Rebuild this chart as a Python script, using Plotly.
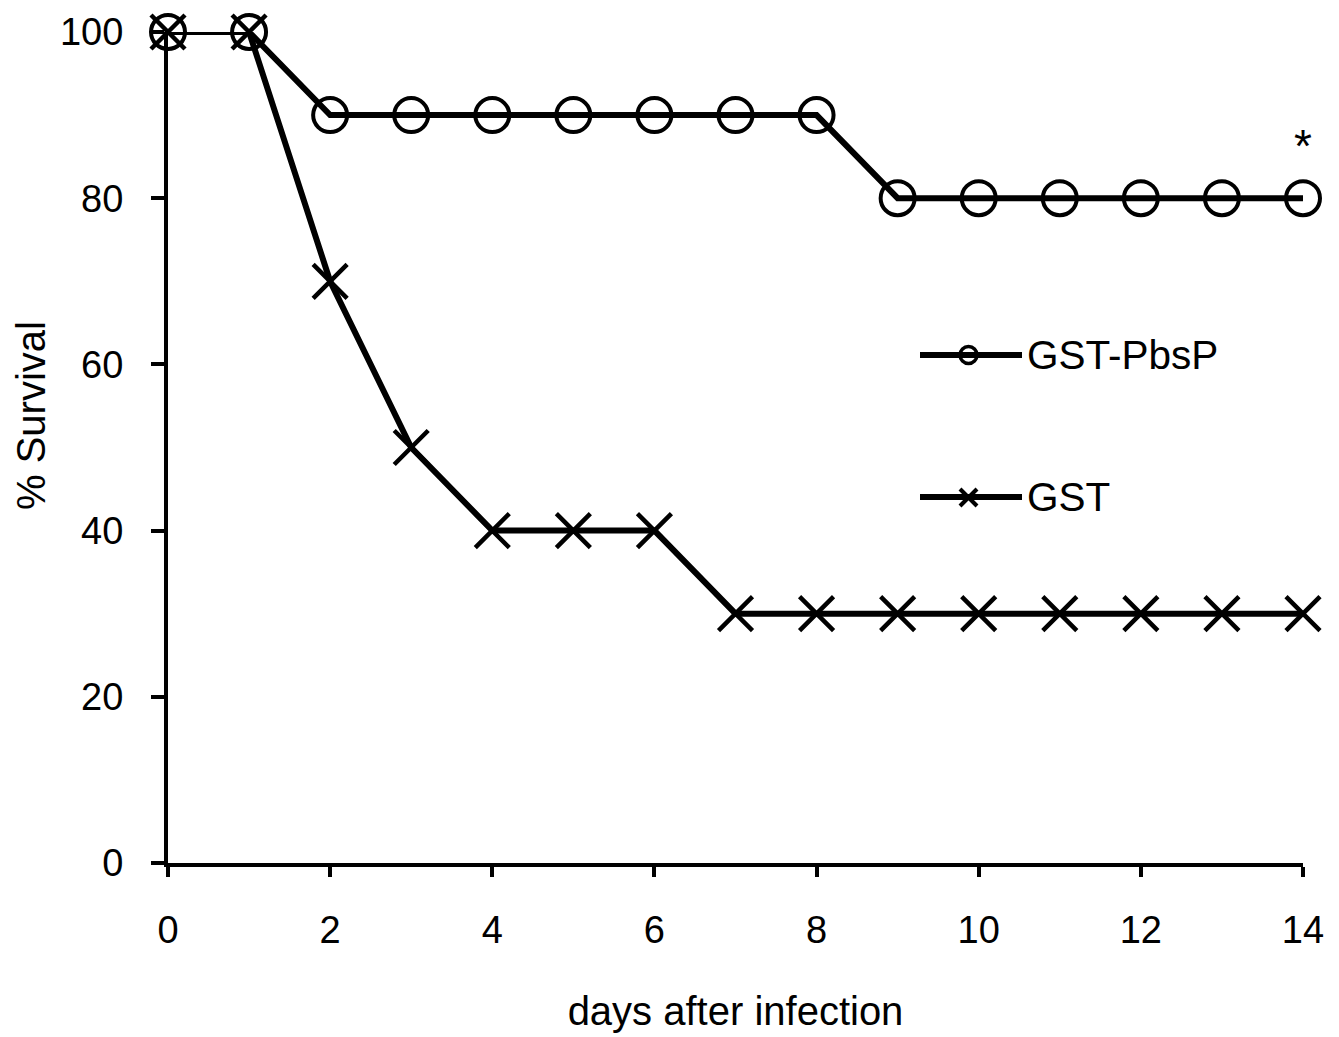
import plotly.graph_objects as go

days = list(range(15))
gst_pbsp = [100, 100, 90, 90, 90, 90, 90, 90, 90, 80, 80, 80, 80, 80, 80]
gst = [100, 100, 70, 50, 40, 40, 40, 30, 30, 30, 30, 30, 30, 30, 30]
x_ticks = [0, 2, 4, 6, 8, 10, 12, 14]
y_ticks = [0, 20, 40, 60, 80, 100]

FONT = "Liberation Sans, Arial, sans-serif"

fig = go.Figure()
fig.add_trace(go.Scatter(
    x=days, y=gst, mode="lines+markers", name="GST",
    line=dict(color="black", width=6),
    marker=dict(symbol="x-thin-open", size=34, line=dict(color="black", width=4.5)),
    cliponaxis=False,
))
fig.add_trace(go.Scatter(
    x=days, y=gst_pbsp, mode="lines+markers", name="GST-PbsP",
    line=dict(color="black", width=6),
    marker=dict(symbol="circle-open", size=34, color="black", line=dict(color="black", width=4)),
    cliponaxis=False,
))

# custom legend (paper coords); page has an 8px body offset
OFF = 8
L, T, Rr, B = 168 - OFF, 32 - OFF, 1303 - OFF, 863 - OFF
W, H = float(Rr - L), float(B - T)
def px(xp):
    return (xp - OFF - L) / W
def py(yp):
    return (B - (yp - OFF)) / H

shapes = []
for yy in (355, 497):
    shapes.append(dict(type="line", xref="paper", yref="paper",
                       x0=px(920), x1=px(1022), y0=py(yy), y1=py(yy),
                       line=dict(color="black", width=6)))
shapes.append(dict(type="circle", xref="paper", yref="paper",
                   x0=px(960), x1=px(977), y0=py(363.5), y1=py(346.5),
                   line=dict(color="black", width=3.5), fillcolor="rgba(0,0,0,0)"))
shapes.append(dict(type="line", xref="paper", yref="paper",
                   x0=px(960), x1=px(977), y0=py(489), y1=py(506),
                   line=dict(color="black", width=4)))
shapes.append(dict(type="line", xref="paper", yref="paper",
                   x0=px(960), x1=px(977), y0=py(506), y1=py(489),
                   line=dict(color="black", width=4)))

annotations = [
    dict(text="GST-PbsP", xref="paper", yref="paper", x=px(1025), y=py(355),
         xanchor="left", yanchor="middle", showarrow=False,
         font=dict(family=FONT, size=40.5, color="black")),
    dict(text="GST", xref="paper", yref="paper", x=px(1025), y=py(497),
         xanchor="left", yanchor="middle", showarrow=False,
         font=dict(family=FONT, size=40.5, color="black")),
    dict(text="*", x=days[-1], y=gst_pbsp[-1], yshift=52, showarrow=False,
         font=dict(family=FONT, size=46, color="black")),
    dict(text="% Survival", xref="paper", yref="paper", x=px(31), y=py(416),
         xanchor="center", yanchor="middle", textangle=-90, showarrow=False,
         font=dict(family=FONT, size=40, color="black")),
]

fig.update_layout(
    width=1339, height=1037,
    margin=dict(l=L, r=1339 - Rr, t=T, b=1037 - B, autoexpand=False),
    paper_bgcolor="white", plot_bgcolor="white",
    showlegend=False,
    font=dict(family=FONT, size=38, color="black"),
    shapes=shapes, annotations=annotations,
    xaxis=dict(range=[0, 14], tickvals=x_ticks, ticks="outside", ticklen=10,
               tickwidth=4, tickcolor="black", showline=True, linewidth=4,
               linecolor="black", showgrid=False, zeroline=False,
               automargin=False,
               ticklabelstandoff=20,
               tickfont=dict(family=FONT, size=38),
               title=dict(text="days after infection", standoff=48,
                          font=dict(family=FONT, size=40))),
    yaxis=dict(range=[0, 100], tickvals=y_ticks, ticks="outside", ticklen=13,
               tickwidth=4, tickcolor="black", showline=True, linewidth=4,
               linecolor="black", showgrid=False, zeroline=False,
               automargin=False,
               ticklabelstandoff=20,
               tickfont=dict(family=FONT, size=38)),
)

fig.write_html("out.html")
